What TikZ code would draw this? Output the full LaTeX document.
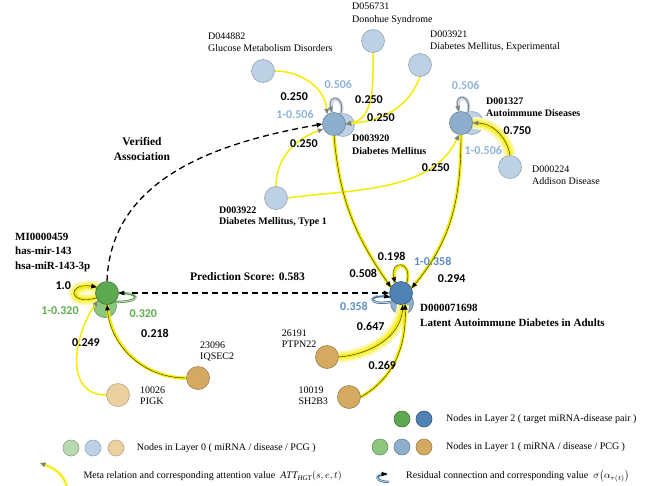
\documentclass[tikz,border=0pt]{standalone}
\usepackage{fontspec}
\setmainfont{Liberation Serif}
\newfontfamily\labfont{Carlito}
\usetikzlibrary{arrows.meta}
\pgfdeclarelayer{bk}
\pgfdeclarelayer{edges}
\pgfsetlayers{bk,edges,main}
\definecolor{gA}{HTML}{B8DAAE}
\definecolor{bA}{HTML}{BDD1E4}
\definecolor{tA}{HTML}{EBD0A0}
\definecolor{gB}{HTML}{8DC67F}
\definecolor{bB}{HTML}{8DAFCD}
\definecolor{tB}{HTML}{D4A961}
\definecolor{gC}{HTML}{5DA94F}
\definecolor{bC}{HTML}{4F82B4}
\definecolor{myY}{HTML}{F4EC00}
\definecolor{glowY}{HTML}{FBF6A0}
\definecolor{tipG}{HTML}{7F7F7F}
\definecolor{lbL}{HTML}{8FB4D9}
\definecolor{lbD}{HTML}{5B8EC6}
\definecolor{lgr}{HTML}{5DAE4F}
\tikzset{
  nd/.style={circle,minimum size=23pt,inner sep=0pt,line width=0.6pt},
  lnd/.style={circle,minimum size=16pt,inner sep=0pt,line width=0.6pt},
  g0/.style={fill=gA,draw=gA!75!black},
  b0/.style={fill=bA,draw=bA!80!black},
  t0/.style={fill=tA,draw=tA!80!black},
  g1/.style={fill=gB,draw=gB!75!black},
  b1/.style={fill=bB,draw=bB!75!black},
  t1s/.style={fill=tB,draw=tB!75!black},
  g2/.style={fill=gC,draw=gC!70!black},
  b2/.style={fill=bC,draw=bC!70!black},
  yl/.style={draw=myY,line width=1.5pt},
  ylc/.style={draw=black!85,line width=0.4pt,preaction={draw=myY,line width=3.2pt,arrows=-}},
  glow/.style={preaction={draw=myY!25,line width=12pt,arrows=-},preaction={draw=myY!55,line width=8pt,arrows=-}},
  ta/.style={-{Triangle[length=5.5pt,width=4.5pt,color=black]}},
  tg/.style={-{Triangle[length=5.5pt,width=4.5pt,color=tipG]}},
  dsh/.style={draw=black,line width=1.3pt,dash pattern=on 6pt off 4pt},
  resg/.style={draw=tipG,line width=0.9pt,preaction={draw=bA!80,line width=3.5pt,arrows=-}},
  resb/.style={draw=bA!70,line width=0.8pt,preaction={draw=bC!85!black,line width=2.4pt,arrows=-}},
  resgr/.style={draw=gA!70,line width=0.8pt,preaction={draw=gC!85!black,line width=2.4pt,arrows=-}},
  lab/.style={font=\labfont\bfseries\fontsize{12}{14}\selectfont,inner sep=0pt},
  txt/.style={font=\fontsize{10}{12.5}\selectfont,align=left,anchor=west,inner sep=0pt},
  btxt/.style={font=\bfseries\fontsize{10}{12.5}\selectfont,align=left,anchor=west,inner sep=0pt},
}
\begin{document}
\begin{tikzpicture}[x=1pt,y=1pt]
\begin{pgfonlayer}{bk}
\fill[white] (0,0) rectangle (656,-485);
\node[nd,b0] (dmB) at (343,-125) {};
\node[nd,b0] (aiB) at (472,-123) {};
\node[nd,g1] (mirB) at (105,-306) {};
\node[nd,b1] (ladaB) at (402,-303) {};
\end{pgfonlayer}
\useasboundingbox (0,0) rectangle (656,-485);

% nodes
\node[nd,b0] (glu) at (263,-71) {};
\node[nd,b0] (don) at (373,-41) {};
\node[nd,b0] (exp) at (420,-65) {};
\node[nd,b1] (dm) at (334,-124) {};
\node[nd,b1] (ai) at (461,-123) {};
\node[nd,b0] (add) at (510,-167) {};
\node[nd,b0] (t1) at (276,-198) {};
\node[nd,g2] (mir) at (107,-293) {};
\node[nd,b2] (lada) at (401,-293) {};
\node[nd,t0] (pigk) at (118,-395) {};
\node[nd,t1s] (iq) at (198,-378) {};
\node[nd,t1s] (ptpn) at (327,-357) {};
\node[nd,t1s] (sh) at (349,-397) {};

% node texts
\node[txt,font=\fontsize{10}{13.4}\selectfont] (tdon) at (352,-14) {D056731\\Donohue Syndrome};
\node[txt] (tglu) at (208,-42) {D044882\\Glucose Metabolism Disorders};
\node[txt] (texp) at (430,-41.3) {D003921\\Diabetes Mellitus, Experimental};
\node[btxt,font=\bfseries\fontsize{10}{13}\selectfont] (tdm) at (352,-144.5) {D003920\\Diabetes Mellitus};
\node[btxt,font=\bfseries\fontsize{10}{11.8}\selectfont] (tai) at (486,-107.5) {D001327\\Autoimmune Diseases};
\node[txt,font=\fontsize{10}{11.8}\selectfont] (tadd) at (532,-175) {D000224\\Addison Disease};
\node[btxt,font=\bfseries\fontsize{10}{11.5}\selectfont] (tt1) at (219,-216.7) {D003922\\Diabetes Mellitus, Type 1};
\node[font=\bfseries\fontsize{11.5}{15}\selectfont,align=center,inner sep=0pt] (tver) at (142,-149.5) {Verified\\Association};
\node[btxt,font=\bfseries\fontsize{11}{14.5}\selectfont] (tmir) at (15,-252.5) {MI0000459\\has-mir-143\\hsa-miR-143-3p};
\node[btxt,font=\bfseries\fontsize{11.5}{14}\selectfont] (tpred) at (190,-276.7) {Prediction Score: 0.583};
\node[btxt,font=\bfseries\fontsize{11}{15.5}\selectfont] (tlada) at (420,-315.5) {D000071698\\Latent Autoimmune Diabetes in Adults};
\node[txt,font=\fontsize{10}{11.5}\selectfont] (tptpn) at (281.7,-338.8) {26191\\PTPN22};
\node[txt,font=\fontsize{10}{11.7}\selectfont] (tsh) at (298.3,-395.8) {10019\\SH2B3};
\node[txt,font=\fontsize{10}{11.5}\selectfont] (tiq) at (200,-351.7) {23096\\IQSEC2};
\node[txt,font=\fontsize{10}{11.7}\selectfont] (tpigk) at (140,-395.8) {10026\\PIGK};

% edge labels
\node[lab] (e1) at (294.3,-96.7) {0.250};
\node[lab,lbL] (e2) at (338.3,-84.3) {0.506};
\node[lab,lbL] (e3) at (295,-114.3) {1-0.506};
\node[lab] (e4) at (369,-99.3) {0.250};
\node[lab] (e5) at (381,-117.3) {0.250};
\node[lab] (e6) at (304,-143.3) {0.250};
\node[lab] (e7) at (435.7,-167.3) {0.250};
\node[lab,lbL] (e8) at (465.7,-85) {0.506};
\node[lab] (e9) at (517.3,-131) {0.750};
\node[lab,lbL] (e10) at (483.3,-150.7) {1-0.506};
\node[lab] (e11) at (63.3,-286) {1.0};
\node[lab,lgr] (e12) at (60,-311) {1-0.320};
\node[lab,lgr] (e13) at (143.3,-314) {0.320};
\node[lab] (e14) at (155,-333.3) {0.218};
\node[lab] (e15) at (86,-342.7) {0.249};
\node[lab] (e16) at (391.7,-256) {0.198};
\node[lab,lbD] (e17) at (432.7,-261) {1-0.358};
\node[lab] (e18) at (363.3,-273.3) {0.508};
\node[lab] (e19) at (451.7,-278.3) {0.294};
\node[lab,lbD] (e20) at (354,-306.7) {0.358};
\node[lab] (e21) at (370.7,-326.7) {0.647};
\node[lab] (e22) at (382.3,-365.7) {0.269};

% edges
\begin{pgfonlayer}{edges}
\draw[yl,tg] (glu.east) to[out=0,in=95] (dm.125);
\draw[yl,tg] (don.south) to[out=-90,in=10] (dm.east);
\draw[yl,tg] (exp.south) to[out=-110,in=5] (dm.east);
\draw[yl,tg] (t1.north) to[out=90,in=200] (dm.205);
\draw[yl,tg] (t1.east) to[out=8,in=-115,looseness=0.9] (ai.-100);
\draw[glow,ylc,tg] (add.north) to[out=100,in=0] (ai.east);
\draw[resg,tg] (dm.55) to[out=75,in=105,min distance=20pt] (dm.100);
\draw[resg,tg] (ai.55) to[out=75,in=105,min distance=20pt] (ai.100);
\draw[ylc,ta] (dm.south) to[out=-85,in=125] (lada.150);
\draw[ylc,ta] (ai.south) to[out=-90,in=50] (lada.25);
\draw[ylc,ta] (lada.60) to[out=75,in=105,min distance=24pt] (lada.120);
\draw[resb,ta] (ladaB.175) to[out=190,in=170,min distance=24pt] (lada.200);
\draw[glow,ylc,ta] (ptpn.east) to[out=5,in=-95] (lada.-80);
\draw[ylc,ta] (sh.east) to[out=30,in=-88] (lada.-70);
\draw[glow,ylc,ta] (mir.205) to[out=195,in=170,min distance=30pt] (mir.150);
\draw[resgr,ta] (mirB.20) to[out=0,in=0,min distance=24pt] (mir.east);
\draw[yl,tg] (pigk.west) to[out=180,in=235,looseness=1.15] (mir.220);
\draw[ylc,ta] (iq.west) to[out=180,in=-85] (mir.south);
\draw[dsh,ta] (mir.north) to[out=88,in=190] (dm.west);
\draw[dsh,ta,shorten <=13pt] (mir.east) -- (lada.west);
\end{pgfonlayer}

% legend
\node[lnd,g2] (L2a) at (402,-419) {};
\node[lnd,b2] (L2b) at (424,-419) {};
\node[txt] (L2t) at (446,-419) {Nodes in Layer 2 ( target miRNA-disease pair )};
\node[lnd,g1] (L1a) at (380,-447) {};
\node[lnd,b1] (L1b) at (402,-447) {};
\node[lnd,t1s] (L1c) at (424,-447) {};
\node[txt] (L1t) at (446,-447) {Nodes in Layer 1 ( miRNA / disease / PCG )};
\node[lnd,g0] (L0a) at (71,-448) {};
\node[lnd,b0] (L0b) at (93,-448) {};
\node[lnd,t0] (L0c) at (116,-448) {};
\node[txt] (L0t) at (136.7,-448) {Nodes in Layer 0 ( miRNA / disease / PCG )};
\coordinate (mA) at (67,-488);
\coordinate (mB) at (40,-463);
\draw[yl,tg,preaction={draw=myY!30,line width=4pt,arrows=-}] (mA) to[out=100,in=-20] (mB);
\node[txt] (Lmt) at (83.3,-476) {Meta relation and corresponding attention value \ $\mathit{ATT}_{\mathit{HGT}}(s,e,t)$};
\coordinate (rA) at (389,-482);
\coordinate (rB) at (387,-474);
\draw[resb,ta] (rA) to[out=180,in=180,min distance=14pt] (rB);
\node[txt] (Lrt) at (406,-476) {Residual connection and corresponding value \ $\sigma\bigl(\alpha_{\tau(t)}\bigr)$};
\end{tikzpicture}
\end{document}
